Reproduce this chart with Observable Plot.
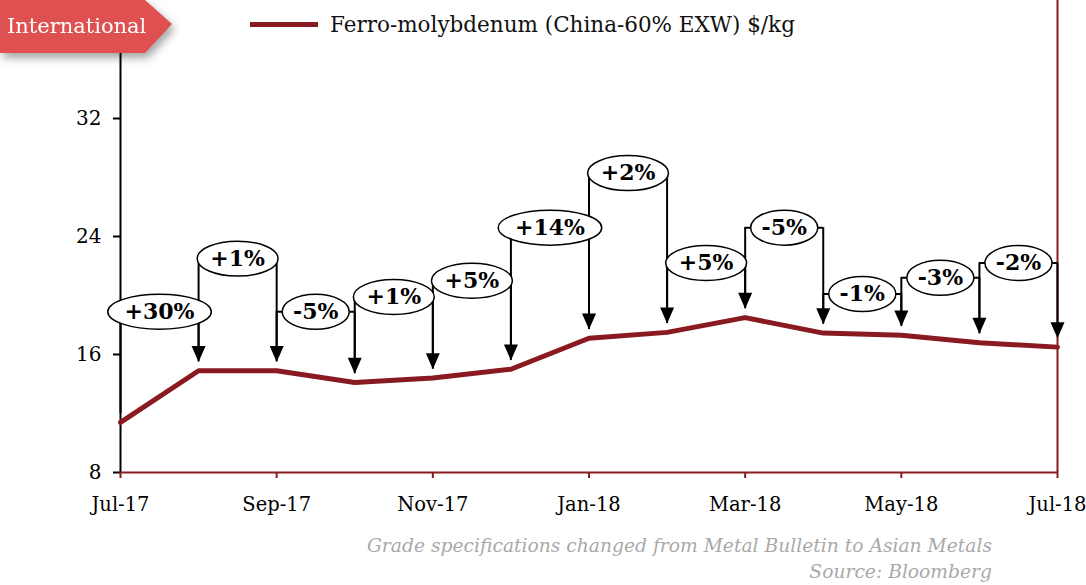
<!DOCTYPE html>
<html>
<head>
<meta charset="utf-8">
<script src="https://cdn.jsdelivr.net/npm/d3@7"></script>
<script src="https://cdn.jsdelivr.net/npm/@observablehq/plot@0.6"></script>
<style>
  body { margin: 0; background: white; }
  #wrap { position: relative; width: 1086px; height: 585px; overflow: hidden; font-family: "DejaVu Serif", serif; }
  #chart { position: absolute; left: 0; top: 0; }
  .badge-shadow { position: absolute; left: 0; top: 0; filter: drop-shadow(3px 5px 4px rgba(0,0,0,0.35)); }
  .badge { width: 172px; height: 53px; background: #df5151; color: white; font-size: 21px;
           clip-path: polygon(0 0, 145px 0, 172px 24px, 145px 53px, 0 53px);
           line-height: 53px; padding-left: 7px; box-sizing: border-box; white-space: nowrap; }
  .legend { position: absolute; left: 250px; top: 12px; display: flex; align-items: center; font-size: 21.5px; color: #111; white-space: nowrap; }
  .legend .swatch { width: 68px; height: 5px; background: #8a1a21; margin-right: 12px; }
  .caption { position: absolute; right: 94px; top: 533px; text-align: right; font-style: italic; color: #a9a9a9; font-size: 18.7px; line-height: 26px; white-space: nowrap; }
</style>
</head>
<body>
<div id="wrap">
  <div id="chart"></div>
  <div class="badge-shadow"><div class="badge">International</div></div>
  <div class="legend"><div class="swatch"></div><span>Ferro-molybdenum (China-60% EXW) $/kg</span></div>
  <div class="caption">Grade specifications changed from Metal Bulletin to Asian Metals<br>Source: Bloomberg</div>
</div>
<script>
// ---- data ----
const months = ["Jul-17","Aug-17","Sep-17","Oct-17","Nov-17","Dec-17","Jan-18","Feb-18","Mar-18","Apr-18","May-18","Jun-18","Jul-18"];
const prices = [11.4, 14.9, 14.9, 14.1, 14.4, 15.0, 17.1, 17.5, 18.5, 17.45, 17.3, 16.8, 16.5];
const changes = ["+30%","+1%","-5%","+1%","+5%","+14%","+2%","+5%","-5%","-1%","-3%","-2%"];
const labelLevels = [18.9, 22.5, 18.9, 19.9, 21.0, 24.6, 28.3, 22.2, 24.6, 20.1, 21.2, 22.2];
const yTicks = [8, 16, 24, 32];
const xTicks = [0, 2, 4, 6, 8, 10, 12];

const red = "#8a1a21";
const labelFontSize = 22;
const ctx = document.createElement("canvas").getContext("2d");
ctx.font = `bold ${labelFontSize}px 'DejaVu Serif'`;
const rxFor = (t) => ctx.measureText(t).width * 0.74;

const series = months.map((m, i) => ({i, month: m, price: prices[i]}));
const brackets = changes.map((c, i) => ({i, label: c, level: labelLevels[i], from: prices[i], to: prices[i + 1]}));
const tipOffset = 0.6;

const arrowHead = { draw(c) { c.moveTo(0, 0); c.lineTo(-7, -16); c.lineTo(7, -16); c.closePath(); } };
const ellipse = { draw(c, size) {
  const rx = Math.sqrt(size / Math.PI), ry = 17.5, k = 0.5523;
  c.moveTo(rx, 0);
  c.bezierCurveTo(rx, k * ry, k * rx, ry, 0, ry);
  c.bezierCurveTo(-k * rx, ry, -rx, k * ry, -rx, 0);
  c.bezierCurveTo(-rx, -k * ry, -k * rx, -ry, 0, -ry);
  c.bezierCurveTo(k * rx, -ry, rx, -k * ry, rx, 0);
  c.closePath();
} };

const chart = Plot.plot({
  width: 1086,
  height: 585,
  marginTop: 0,
  marginLeft: 120,
  marginRight: 29,
  marginBottom: 113,
  style: {fontFamily: "'DejaVu Serif', serif", color: "black", background: "white"},
  x: {domain: [0, 12]},
  y: {domain: [8, 40]},
  r: {type: "identity"},
  marks: [
    Plot.ruleX([0], {stroke: "black", strokeWidth: 2}),
    Plot.ruleX([12], {stroke: red, strokeWidth: 2}),
    Plot.ruleY([8], {stroke: red, strokeWidth: 2}),
    Plot.axisY({ticks: yTicks, tickSize: 7, tickPadding: 12, strokeWidth: 2, fontSize: 20, label: null}),
    Plot.axisX({ticks: xTicks, tickFormat: (i) => months[i], tickSize: 6, tickPadding: 19, stroke: red, strokeWidth: 2, fill: "black", fontSize: 19.5, label: null}),
    Plot.lineY(series, {x: "i", y: "price", stroke: red, strokeWidth: 5}),
    Plot.ruleX(brackets, {x: "i", y1: "level", y2: (d) => d.from + tipOffset, stroke: "black", strokeWidth: 2}),
    Plot.ruleX(brackets, {x: (d) => d.i + 1, y1: "level", y2: (d) => d.to + tipOffset + 0.4, stroke: "black", strokeWidth: 2}),
    Plot.ruleY(brackets, {y: "level", x1: "i", x2: (d) => d.i + 1, stroke: "black", strokeWidth: 2}),
    Plot.dot(brackets, {x: (d) => d.i + 1, y: (d) => d.to + tipOffset, symbol: arrowHead, r: 5, fill: "black", stroke: "none"}),
    Plot.dot(brackets, {x: (d) => d.i + 0.5, y: "level", r: (d) => rxFor(d.label), symbol: ellipse, fill: "white", stroke: "black", strokeWidth: 1.5}),
    Plot.text(brackets, {x: (d) => d.i + 0.5, y: "level", text: "label", fontWeight: "bold", fontSize: labelFontSize, fill: "black"})
  ]
});
document.getElementById("chart").appendChild(chart);
</script>
</body>
</html>
